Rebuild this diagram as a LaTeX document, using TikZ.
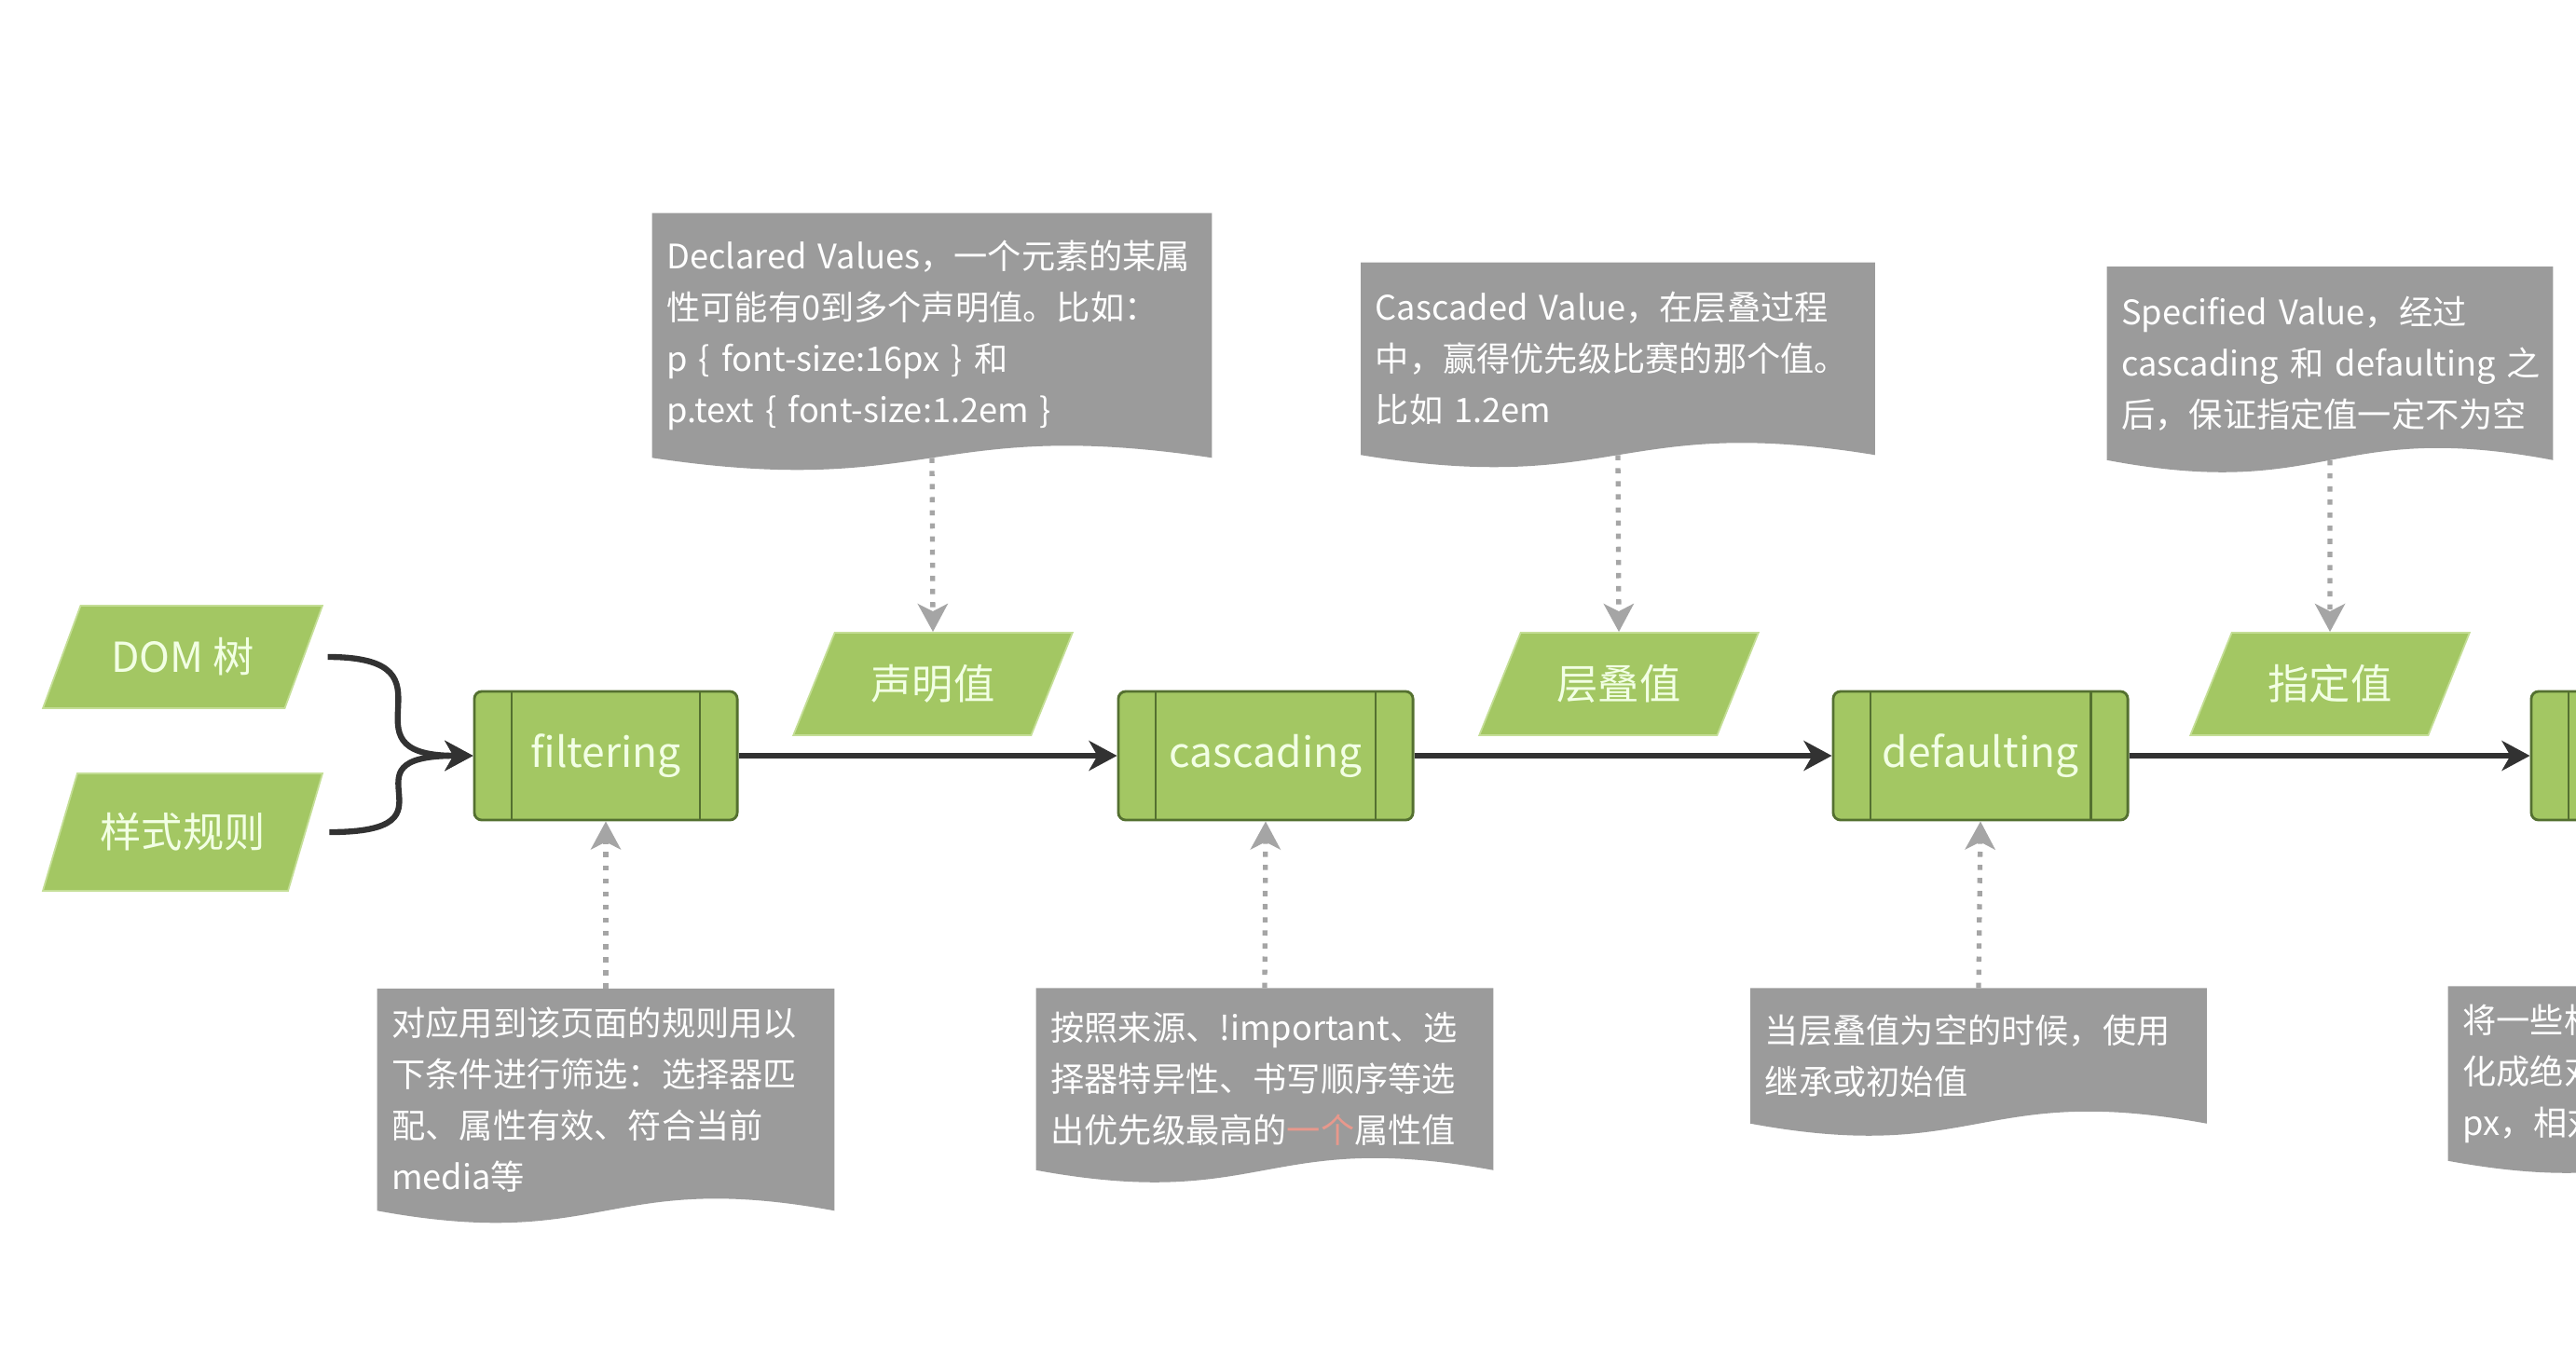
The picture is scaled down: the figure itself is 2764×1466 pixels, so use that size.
\documentclass[tikz,border=0pt]{standalone}
\usepackage{fontspec}
\setmainfont{Noto Sans CJK SC}
\usetikzlibrary{shapes.geometric, arrows.meta}
\pgfdeclarelayer{background}
\pgfsetlayers{background,main}

\definecolor{leaf}{RGB}{163,199,99}
\definecolor{leafedge}{RGB}{196,222,150}
\definecolor{boxedge}{RGB}{84,112,48}
\definecolor{tagtext}{RGB}{242,255,228}
\definecolor{notegray}{RGB}{155,155,155}
\definecolor{hintgray}{RGB}{165,165,165}
\definecolor{arrowdark}{RGB}{50,50,50}
\definecolor{notered}{RGB}{232,152,140}

\newcommand{\notefont}{\fontsize{10.3pt}{15.6pt}\selectfont\hyphenpenalty=10000\relax}
\newcommand{\tagfont}{\fontsize{12.6pt}{14pt}\selectfont}

\begin{document}
\begin{tikzpicture}[
          x=0.01cm, y=-0.01cm,
          procbox/.style={rectangle, draw=boxedge, fill=leaf, line width=0.8pt, rounded corners=0.08cm, minimum width=3.16cm, minimum height=1.38cm, text=tagtext, font=\tagfont,
            path picture={\draw[boxedge, line width=0.8pt] ([xshift=0.4cm]path picture bounding box.north west) -- ([xshift=0.4cm]path picture bounding box.south west)
              ([xshift=-0.4cm]path picture bounding box.north east) -- ([xshift=-0.4cm]path picture bounding box.south east);}},
          valnode/.style={trapezium, trapezium left angle=63, trapezium right angle=117, trapezium stretches, draw=leafedge, line width=0.5pt, fill=leaf, minimum width=3cm, minimum height=1.1cm, text=tagtext, font=\tagfont},
          notebox/.style={rectangle, inner xsep=0.15cm, inner ysep=0pt, align=left, text=white, font=\notefont},
          mainarrow/.style={draw=arrowdark, line width=1.8pt, -{Stealth[length=0.3cm, width=0.32cm, inset=0.09cm]}},
          hintarrow/.style={draw=hintgray, line width=1.5pt, dash pattern=on 1.6pt off 2.4pt, -{Stealth[length=0.3cm, width=0.32cm, inset=0.08cm]}}
        ]
        \useasboundingbox (0,0) rectangle (2764,1466);

        % ----------------------------------------------------
        % INPUTS
        % ----------------------------------------------------
        \node (domtree) at (196, 705) [valnode] {DOM 树};
        \node (stylerules) at (196, 893) [valnode, minimum height=1.26cm] {样式规则};

        % ----------------------------------------------------
        % STEPS
        % ----------------------------------------------------
        \node (filterbox) at (650, 811) [procbox, minimum width=2.82cm] {filtering};
        \node (cascadebox) at (1358, 811) [procbox] {cascading};
        \node (defaultbox) at (2125, 811) [procbox] {defaulting};
        \node (computebox) at (2874, 811) [procbox] {};

        % ----------------------------------------------------
        % VALUES
        % ----------------------------------------------------
        \node (declval) at (1001, 734) [valnode] {声明值};
        \node (cascval) at (1737, 734) [valnode] {层叠值};
        \node (specval) at (2500, 734) [valnode] {指定值};

        % ----------------------------------------------------
        % NOTES
        % ----------------------------------------------------
        \node (declnote) at (1000, 360) [notebox, minimum width=5.99cm, minimum height=2.61cm, text width=5.69cm] {Declared~Values，一个元素的某属\\性可能有0到多个声明值。比如：\\p~\{~font-size:16px~\}~和\\p.text~\{~font-size:1.2em~\}};
        \node (cascnote) at (1736, 385) [notebox, minimum width=5.5cm, minimum height=2.05cm, text width=5.2cm] {Cascaded~Value，在层叠过程\\中，赢得优先级比赛的那个值。\\比如~1.2em};
        \node (specnote) at (2500, 390) [notebox, minimum width=4.77cm, minimum height=2.06cm, text width=4.47cm] {Specified~Value，经过\\cascading~和~defaulting~之\\后，保证指定值一定不为空};

        \node (filternote) at (650, 1180) [notebox, minimum width=4.89cm, minimum height=2.37cm, text width=4.59cm] {对应用到该页面的规则用以\\下条件进行筛选：选择器匹\\配、属性有效、符合当前\\media等};
        \node (cascadenote) at (1357, 1158) [notebox, minimum width=4.89cm, minimum height=1.94cm, text width=4.59cm] {按照来源、!important、选\\择器特异性、书写顺序等选\\出优先级最高的{\color{notered}一个}属性值};
        \node (defaultnote) at (2123, 1133) [notebox, minimum width=4.88cm, minimum height=1.44cm, text width=4.58cm] {当层叠值为空的时候，使用\\继承或初始值};
        \node (computenote) at (2872, 1152) [notebox, minimum width=4.89cm, minimum height=1.86cm, text width=4.59cm] {将一些相对值或者关键字转\\化成绝对值，比如~em~转为\\px，相对路径转为绝对路径};

        \begin{pgfonlayer}{background}
          \foreach \n/\h in {declnote/300, cascnote/275, specnote/238, filternote/245, cascadenote/245, defaultnote/244, computenote/245}
            \fill[notegray] (\n.north west) -- (\n.north east) -- (\n.south east)
              .. controls +(-\h,-45) and +(\h,45) .. (\n.south west) -- cycle;
        \end{pgfonlayer}

        % ----------------------------------------------------
        % CONNECTORS
        % ----------------------------------------------------
        \draw[mainarrow] ([xshift=0.25cm]domtree.east) .. controls +(151,0) and +(-151,0) .. (filterbox.west);
        \draw[mainarrow] ([xshift=0.25cm]stylerules.east) .. controls +(151,0) and +(-151,0) .. (filterbox.west);
        \draw[mainarrow] (filterbox) -- (cascadebox);
        \draw[mainarrow] (cascadebox) -- (defaultbox);
        \draw[mainarrow] (defaultbox) -- (computebox);

        \draw[hintarrow] (declnote.south) -- (declval.north);
        \draw[hintarrow] (cascnote.south) -- (cascval.north);
        \draw[hintarrow] (specnote.south) -- (specval.north);
        \draw[hintarrow] (filternote.north) -- (filterbox.south);
        \draw[hintarrow] (cascadenote.north) -- (cascadebox.south);
        \draw[hintarrow] (defaultnote.north) -- (defaultbox.south);
      \end{tikzpicture}
\end{document}
